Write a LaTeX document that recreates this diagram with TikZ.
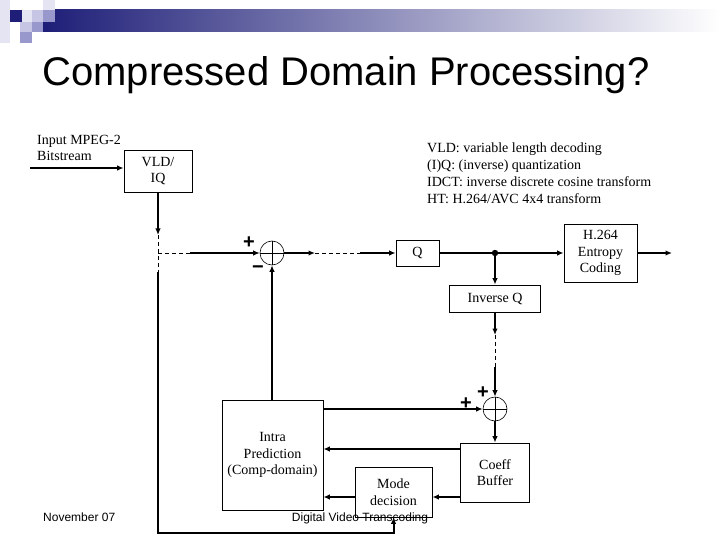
\documentclass[tikz,border=0pt]{standalone}
\usepackage{fontspec}
\setmainfont{Liberation Serif}
\newfontfamily\slidesans{Liberation Sans}
\usetikzlibrary{arrows.meta}

\definecolor{slidenavy}{HTML}{1E1E78}
\definecolor{slidepale}{HTML}{E4E4F2}
\definecolor{slidelight}{HTML}{C6C6E4}
\definecolor{slidemid}{HTML}{9898CC}

\tikzset{
  block/.style={draw,line width=0.8pt,align=center,inner sep=0pt,
    font=\fontsize{14}{16.5}\selectfont},
  sum/.style={draw,circle,line width=0.6pt,minimum size=24pt,inner sep=0pt,
    path picture={\draw [line width=0.4pt]
      (path picture bounding box.north) -- (path picture bounding box.south)
      (path picture bounding box.west) -- (path picture bounding box.east);}},
  flow/.style={line width=2pt,-{Latex[length=6.5pt,width=5.5pt]}},
  gap/.style={line width=0.7pt,dash pattern=on 4pt off 3pt},
  sign/.style={font=\slidesans\bfseries\fontsize{20}{20}\selectfont,inner sep=0pt},
  note/.style={align=left,inner sep=0pt,font=\fontsize{14}{17}\selectfont},
  foot/.style={font=\slidesans\fontsize{12}{14}\selectfont,inner sep=0pt}
}

\begin{document}
\begin{tikzpicture}[x=1pt,y=-1pt]
\useasboundingbox (0,0) rectangle (720,540);

\shade [left color=slidenavy,right color=white] (43,10) rectangle (720,32);
\fill [slidepale]  ( 0, 0) rectangle (10,43);
\fill [slidenavy]  (10,10) rectangle (22,22);
\fill [slidepale]  (22,10) rectangle (32,22);
\fill [slidelight] (32,10) rectangle (43,22);
\fill [slidepale]  (43, 0) rectangle (55,10);
\fill [slidemid]   (43,10) rectangle (55,22);
\fill [slidelight] (20,22) rectangle (32,32);
\fill [slidemid]   (32,22) rectangle (43,32);
\fill [slidemid]   (20,32) rectangle (32,43);

\node [font=\slidesans\fontsize{40}{40}\selectfont,anchor=base] (title) at (346,86)
    {Compressed Domain Processing?};

\node [block,minimum width=68pt,minimum height=42pt]  (vld)   at (158,171)     {VLD/\\ IQ};
\node [block,minimum width=43pt,minimum height=26pt]  (q)     at (417.5,253)   {Q};
\node [block,minimum width=73pt,minimum height=58pt]  (h264)  at (600.5,253)   {H.264\\ Entropy\\ Coding};
\node [block,minimum width=91pt,minimum height=27pt]  (invq)  at (495,298.5)   {Inverse Q};
\node [block,minimum width=101pt,minimum height=110pt](intra) at (272.5,455)   {Intra\\ Prediction\\ (Comp-domain)};
\node [block,minimum width=69pt,minimum height=59pt]  (coeff) at (495,472.5)   {Coeff\\ Buffer};
\node [block,minimum width=77pt,minimum height=50pt]  (mode)  at (393.5,492)   {Mode\\ decision};
\node [sum] (add1) at (272,253) {};
\node [sum] (add2) at (495,409) {};

\node [sign] (plusa)  at (249,243) {+};
\node [sign] (minusa) at (258,270) {−};
\node [sign] (plusb)  at (483,393) {+};
\node [sign] (plusc)  at (466,404) {+};

\node [note,anchor=west,font=\fontsize{14}{15.5}\selectfont] (input) at (37,148)
    {Input MPEG-2\\ Bitstream};
\node [note,anchor=west] (legend) at (427,173.5)
    {VLD: variable length decoding\\
     (I)Q: (inverse) quantization\\
     IDCT: inverse discrete cosine transform\\
     HT: H.264/AVC 4x4 transform};

\coordinate (in)      at ( 30,168);
\coordinate (vdash)   at (158,235);
\coordinate (vsolid)  at (158,272);
\coordinate (hcorner) at (158,253);
\coordinate (hsolid)  at (190,253);
\coordinate (bl)      at (158,533);
\coordinate (br)      at (393.5,533);
\coordinate (sumout)  at (315,253);
\coordinate (qin)     at (360,253);
\coordinate (tap)     at (495,253);
\coordinate (out)     at (672,253);
\coordinate (iqout)   at (495,335);
\coordinate (iqsolid) at (495,367);
\coordinate (fbtop)   at (460.5,449);
\coordinate (fbmid)   at (460.5,497);

\draw [flow] (in) -- (in -| vld.west);
\draw [flow] (vld.south) -- (vdash);
\draw [gap]  (vdash) -- (vsolid);
\draw [gap]  (hcorner) -- (hsolid);
\draw [flow] (hsolid) -- (add1.west);
\draw [flow] (add1.east) -- (sumout);
\draw [gap]  (sumout) -- (qin);
\draw [flow] (qin) -- (q.west);
\draw [flow] (q.east) -- (h264.west);
\draw [flow] (h264.east) -- (out);
\fill (tap) circle (3.2pt);
\draw [flow] (tap) -- (invq.north);
\draw [flow] (invq.south) -- (iqout);
\draw [gap]  (iqout) -- (iqsolid);
\draw [flow] (iqsolid) -- (add2.north);
\draw [flow] (add1 |- intra.north) -- (add1.south);
\draw [flow] (add2 -| intra.east) -- (add2.west);
\draw [flow] (add2.south) -- (coeff.north);
\draw [flow] (fbtop) -- (fbtop -| intra.east);
\draw [flow] (fbmid) -- (fbmid -| mode.east);
\draw [flow] (fbmid -| mode.west) -- (fbmid -| intra.east);
\draw [flow] (vsolid) -- (bl) -- (br) -- (mode.south);

\node [foot,anchor=base west] (date)   at ( 43,521) {November 07};
\node [foot,anchor=base]      (course) at (360,521) {Digital Video Transcoding};
\end{tikzpicture}
\end{document}
